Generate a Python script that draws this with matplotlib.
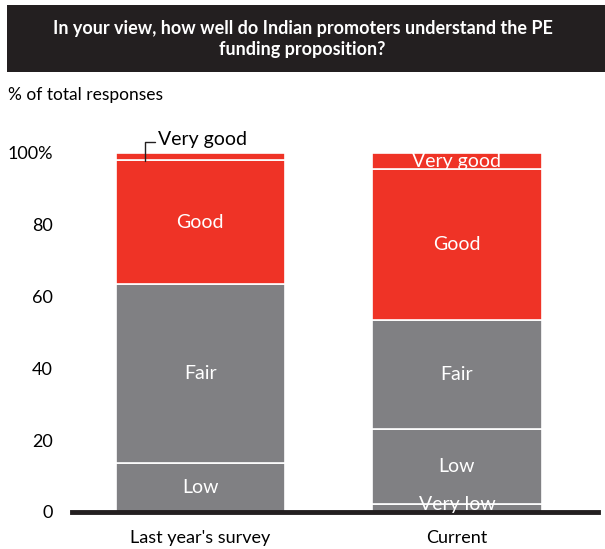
import numpy as np
import matplotlib.pyplot as plt
from matplotlib.patches import Rectangle

# datos (% de respuestas)
categorias = ["Last year's survey", "Current"]
niveles = ["Very low", "Low", "Fair", "Good", "Very good"]
very_low = [0.0, 2.2]
low = [13.6, 20.8]
fair = [49.9, 30.5]
good = [34.5, 42.0]
very_good = [2.0, 4.5]
yticks = [0, 20, 40, 60, 80, 100]
ytick_labels = ["0", "20", "40", "60", "80", "100%"]

series = [very_low, low, fair, good, very_good]
colores = ["#808083", "#808083", "#808083", "#ef3326", "#ef3326"]

plt.rcParams['font.family'] = ['Lato', 'DejaVu Sans']

fig = plt.figure(figsize=(6.05, 5.49), dpi=100)

# caja del titulo
fig.patches.append(Rectangle((7/605, 1 - 72/549), 598/605, 67/549,
                             transform=fig.transFigure, facecolor="#231f20",
                             edgecolor="none"))
fig.text(0.5, 1 - 39/549,
         "In your view, how well do Indian promoters understand the PE\nfunding proposition?",
         color="white", fontsize=13, fontweight="bold", ha="center", va="center",
         linespacing=1.3)
fig.text(8/605, 1 - 95/549, "% of total responses", fontsize=12.5, ha="left", va="center")

ax = fig.add_axes([72/605, 37/549, 526/605, 377/549])
x = np.arange(len(categorias))
base = np.zeros(len(categorias))
for nombre, vals, col in zip(niveles, series, colores):
    vals = np.array(vals)
    ax.bar(x, vals, bottom=base, width=0.66, color=col, edgecolor="white", linewidth=1.2)
    for i in range(len(x)):
        if vals[i] <= 0:
            continue
        if nombre == "Very good" and i == 0:
            continue
        yc = base[i] + vals[i] / 2
        if nombre == "Very low":
            yc = base[i] + vals[i] * 0.9
        ax.text(x[i], yc, nombre, color="white", fontsize=14, ha="center", va="center")
    base = base + vals

# etiqueta externa "Very good" del primer bar
ax.annotate("Very good", xy=(-0.215, base[0] - very_good[0] / 2 - 1.2),
            xytext=(-0.165, 103.8), fontsize=14, ha="left", va="center",
            arrowprops=dict(arrowstyle="-", connectionstyle="angle,angleA=0,angleB=90,rad=0",
                            shrinkA=0, shrinkB=0, lw=1, color="#231f20",
                            relpos=(0, 0.35)))

ax.set_xlim(-0.5, 1.55)
ax.set_ylim(0, 105)
ax.set_xticks(x)
ax.set_xticklabels(categorias, fontsize=13)
ax.set_yticks(yticks)
ax.set_yticklabels(ytick_labels, fontsize=13)
ax.tick_params(length=0, pad=14)
ax.tick_params(axis='x', pad=13)
for s in ["top", "right", "left"]:
    ax.spines[s].set_visible(False)
ax.spines["bottom"].set_linewidth(3.5)
ax.spines["bottom"].set_color("#231f20")

fig.savefig("out.png", dpi=100)
